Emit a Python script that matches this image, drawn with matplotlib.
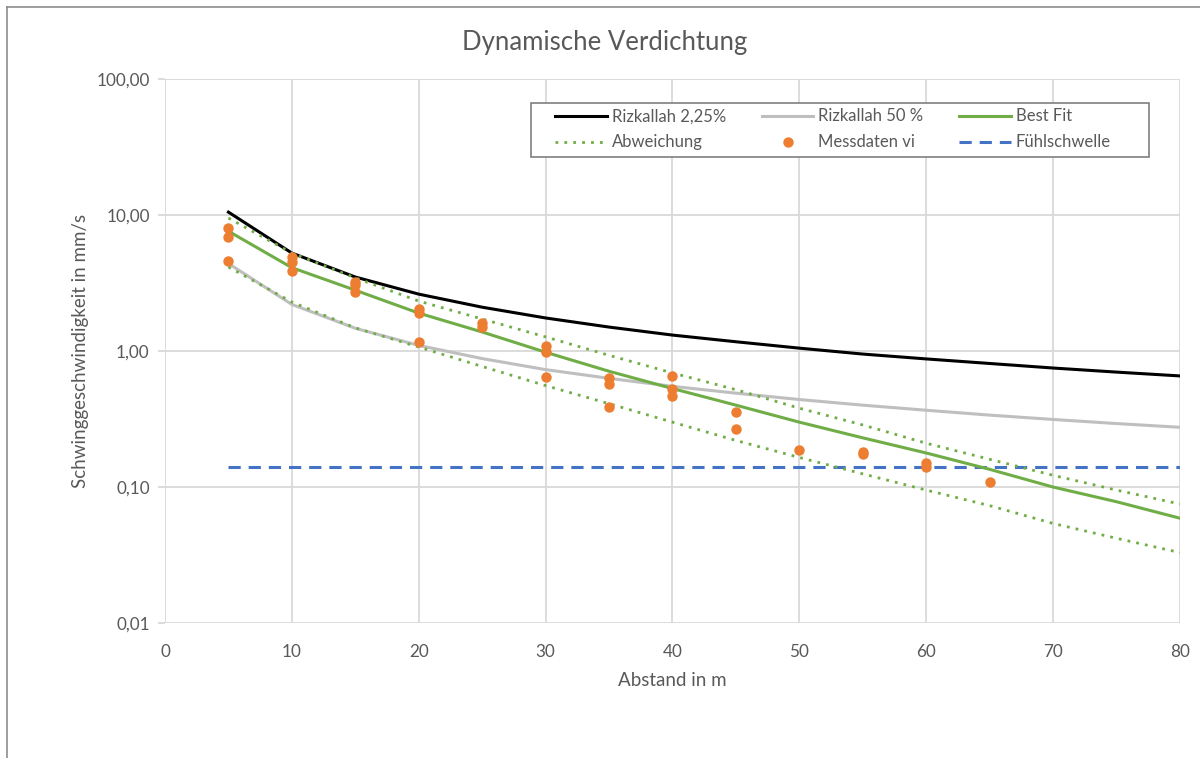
import matplotlib
matplotlib.use("Agg")
from matplotlib import pyplot as plt
from matplotlib.ticker import FixedLocator, FuncFormatter
from matplotlib.lines import Line2D
from matplotlib.patches import Rectangle

plt.rcParams["font.family"] = ["Lato", "DejaVu Sans"]

# distance in m
abstand = [5, 10, 15, 20, 25, 30, 35, 40, 45, 50, 55, 60, 65, 70, 75, 80]

rizkallah_225 = [10.5, 5.25, 3.5, 2.62, 2.1, 1.75, 1.5, 1.31, 1.17, 1.05,
                 0.95, 0.875, 0.81, 0.75, 0.70, 0.656]
rizkallah_50 = [4.4, 2.2, 1.47, 1.1, 0.88, 0.73, 0.63, 0.55, 0.49, 0.44,
                0.40, 0.367, 0.338, 0.314, 0.293, 0.275]
best_fit = [7.6, 4.1, 2.8, 1.9, 1.38, 0.98, 0.71, 0.53, 0.40, 0.30,
            0.23, 0.178, 0.135, 0.10, 0.078, 0.059]
abw_oben = [9.5, 5.25, 3.45, 2.33, 1.72, 1.27, 0.93, 0.69, 0.52, 0.38,
            0.286, 0.21, 0.16, 0.122, 0.095, 0.075]
abw_unten = [4.15, 2.29, 1.48, 1.07, 0.77, 0.557, 0.41, 0.30, 0.22, 0.165,
             0.125, 0.095, 0.073, 0.054, 0.042, 0.033]

mess_x = [5, 5, 5, 10, 10, 10, 15, 15, 15, 20, 20, 20, 25, 25, 30, 30, 30,
          35, 35, 35, 40, 40, 40, 45, 45, 50, 55, 55, 60, 60, 65]
mess_y = [8.0, 6.9, 4.6, 4.9, 4.5, 3.9, 3.2, 3.06, 2.7, 2.04, 1.9, 1.16,
          1.6, 1.5, 1.09, 0.98, 0.64, 0.63, 0.57, 0.39, 0.65, 0.53, 0.47,
          0.356, 0.267, 0.187, 0.18, 0.175, 0.15, 0.14, 0.109]

fuehlschwelle = 0.14

fig = plt.figure(figsize=(12, 7.58), dpi=100)
ax = fig.add_axes([0.1375, 0.178, 0.8458, 0.7178])

ax.plot(abstand, rizkallah_225, color="black", lw=2.2, label="Rizkallah 2,25%", zorder=3)
ax.plot(abstand, rizkallah_50, color="#bfbfbf", lw=2.2, label="Rizkallah 50 %", zorder=3)
ax.plot(abstand, best_fit, color="#70ad47", lw=2.2, label="Best Fit", zorder=4)
ax.plot(abstand, abw_oben, color="#70ad47", lw=2, ls=(0, (1, 2.2)), label="Abweichung", zorder=4)
ax.plot(abstand, abw_unten, color="#70ad47", lw=2, ls=(0, (1, 2.2)), label="_nolegend_", zorder=4)
ax.plot(mess_x, mess_y, "o", color="#ed7d31", ms=7.5, mec="none", label="Messdaten vi", zorder=5)
ax.plot([abstand[0], abstand[-1]], [fuehlschwelle, fuehlschwelle], color="#4472c4",
        lw=2.2, ls=(0, (4, 2.6)), label="Fühlschwelle", zorder=3)

ax.set_yscale("log")
ax.set_xlim(0, 80)
ax.set_ylim(0.01, 100)
ax.xaxis.set_major_locator(FixedLocator(range(0, 81, 10)))
ax.yaxis.set_major_locator(FixedLocator([0.01, 0.1, 1, 10, 100]))
ax.yaxis.set_minor_locator(FixedLocator([]))
ax.yaxis.set_major_formatter(FuncFormatter(lambda v, p: ("%.2f" % v).replace(".", ",")))

for s in ax.spines.values():
    s.set_visible(False)
ax.grid(True, color="#d9d9d9", lw=1.3)
ax.set_axisbelow(True)
ax.tick_params(axis="x", length=0, pad=15, labelsize=12.3, labelcolor="#595959")
ax.tick_params(axis="y", length=5, color="#d9d9d9", width=1.3, pad=6,
               labelsize=12.3, labelcolor="#595959")

ax.set_xlabel("Abstand in m", fontsize=13.5, color="#595959", labelpad=9)
ax.set_ylabel("Schwinggeschwindigkeit in mm/s", fontsize=13.5, color="#595959", labelpad=5)
fig.text(0.504, 0.944, "Dynamische Verdichtung", ha="center", va="center",
         fontsize=18.5, color="#595959")

# legend frame drawn separately so the columns can sit freely inside
ax.add_patch(Rectangle((0.3606, 0.857), 0.609, 0.099, transform=ax.transAxes,
                       facecolor="white", edgecolor="#7f7f7f", lw=1.2, zorder=6))

handles, labels = ax.get_legend_handles_labels()
order = [0, 3, 1, 4, 2, 5]
leg = ax.legend([handles[i] for i in order], [labels[i] for i in order],
                ncol=3, loc="upper left", bbox_to_anchor=(0.3842, 0.946),
                fontsize=12, frameon=False, handlelength=3.1, handletextpad=0.3,
                borderpad=0, labelspacing=0.6, borderaxespad=0, columnspacing=2.15)
leg.set_zorder(7)
for t in leg.get_texts():
    t.set_color("#595959")

# outer chart border (left and top)
fig.add_artist(Line2D([7 / 1200, 7 / 1200], [0, 1 - 7 / 758], color="#8c8c8c", lw=1.2))
fig.add_artist(Line2D([7 / 1200, 1], [1 - 7 / 758, 1 - 7 / 758], color="#8c8c8c", lw=1.2))

fig.savefig("out.png", dpi=100)
